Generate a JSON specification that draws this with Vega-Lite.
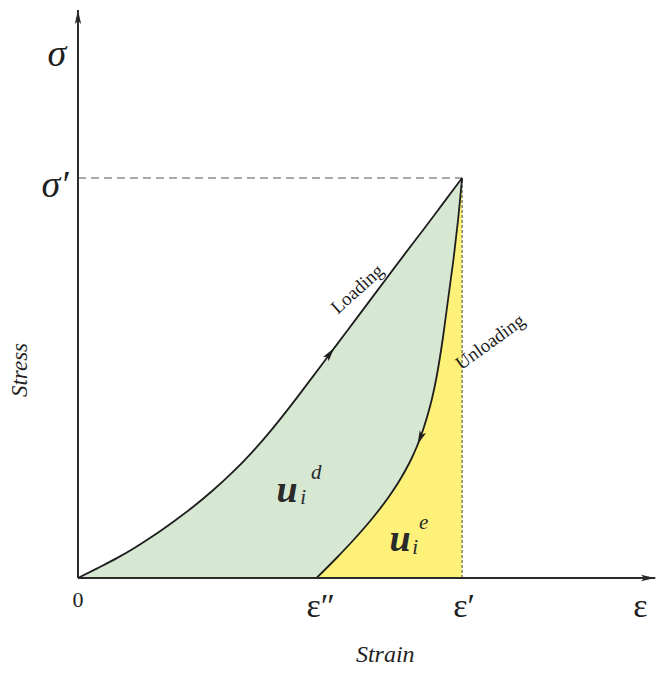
{
  "$schema": "https://vega.github.io/schema/vega-lite/v6.json",
  "width": 663,
  "height": 675,
  "autosize": "none",
  "padding": 0,
  "background": "white",
  "config": {"view": {"stroke": null}},
  "datasets": {
    "loading": [
      {"strain": 0, "stress": 0},
      {"strain": 0.05, "stress": 0.024},
      {"strain": 0.1, "stress": 0.049},
      {"strain": 0.15, "stress": 0.077},
      {"strain": 0.2, "stress": 0.108},
      {"strain": 0.25, "stress": 0.142},
      {"strain": 0.3, "stress": 0.178},
      {"strain": 0.35, "stress": 0.218},
      {"strain": 0.4, "stress": 0.262},
      {"strain": 0.45, "stress": 0.311},
      {"strain": 0.5, "stress": 0.366},
      {"strain": 0.55, "stress": 0.426},
      {"strain": 0.6, "stress": 0.489},
      {"strain": 0.65, "stress": 0.553},
      {"strain": 0.7, "stress": 0.617},
      {"strain": 0.75, "stress": 0.681},
      {"strain": 0.8, "stress": 0.745},
      {"strain": 0.85, "stress": 0.809},
      {"strain": 0.9, "stress": 0.872},
      {"strain": 0.95, "stress": 0.936},
      {"strain": 1.0, "stress": 1.0}
    ],
    "unloading": [
      {"strain": 0.621, "stress": 0},
      {"strain": 0.673, "stress": 0.05},
      {"strain": 0.722, "stress": 0.1},
      {"strain": 0.767, "stress": 0.15},
      {"strain": 0.807, "stress": 0.2},
      {"strain": 0.841, "stress": 0.25},
      {"strain": 0.869, "stress": 0.3},
      {"strain": 0.891, "stress": 0.35},
      {"strain": 0.908, "stress": 0.4},
      {"strain": 0.922, "stress": 0.45},
      {"strain": 0.933, "stress": 0.5},
      {"strain": 0.942, "stress": 0.55},
      {"strain": 0.95, "stress": 0.6},
      {"strain": 0.957, "stress": 0.65},
      {"strain": 0.964, "stress": 0.7},
      {"strain": 0.971, "stress": 0.75},
      {"strain": 0.978, "stress": 0.8},
      {"strain": 0.984, "stress": 0.85},
      {"strain": 0.99, "stress": 0.9},
      {"strain": 0.995, "stress": 0.95},
      {"strain": 1.0, "stress": 1.0}
    ],
    "axes": [
      {"x": 0, "y": 0, "x2": 1.503, "y2": 0},
      {"x": 0, "y": 0, "x2": 0, "y2": 1.42}
    ],
    "hdash": [{"x": 0, "y": 1, "x2": 1, "y2": 1}],
    "vdash": [{"x": 1, "y": 0, "x2": 1, "y2": 1}],
    "axisArrows": [
      {"x": 1.484, "y": 0, "dir": "right"},
      {"x": 0, "y": 1.4025, "dir": "up"}
    ],
    "curveArrows": [
      {"x": 0.656, "y": 0.561, "dir": "loading"},
      {"x": 0.891, "y": 0.35, "dir": "unloading"}
    ],
    "labels": [
      {"x": -0.055, "y": 1.3075, "label": "σ", "role": "greek"},
      {"x": -0.06, "y": 0.98, "label": "σ′", "role": "greek"},
      {"x": 0, "y": -0.055, "label": "0", "role": "zero"},
      {"x": 0.632, "y": -0.0725, "label": "ε″", "role": "eps"},
      {"x": 1.005, "y": -0.0725, "label": "ε′", "role": "eps"},
      {"x": 1.464, "y": -0.0725, "label": "ε", "role": "eps"},
      {"x": 0.8, "y": -0.1925, "label": "Strain", "role": "xtitle"},
      {"x": -0.151, "y": 0.52, "label": "Stress", "role": "ytitle"},
      {"x": 0.727, "y": 0.7225, "label": "Loading", "role": "load"},
      {"x": 1.073, "y": 0.59, "label": "Unloading", "role": "unload"},
      {"x": 0.544, "y": 0.2175, "label": "u", "role": "u"},
      {"x": 0.8385, "y": 0.095, "label": "u", "role": "u"},
      {"x": 0.586, "y": 0.2, "label": "i", "role": "sub"},
      {"x": 0.8775, "y": 0.075, "label": "i", "role": "sub"},
      {"x": 0.62, "y": 0.2625, "label": "d", "role": "sup"},
      {"x": 0.9, "y": 0.1375, "label": "e", "role": "sup"}
    ]
  },
  "encoding": {
    "x": {"type": "quantitative", "scale": {"domain": [-0.203, 1.523], "nice": false, "zero": false}, "axis": null},
    "y": {"type": "quantitative", "scale": {"domain": [-0.2425, 1.445], "nice": false, "zero": false}, "axis": null}
  },
  "layer": [
    {
      "data": {"name": "loading"},
      "mark": {"type": "area", "color": "#d6e7d2", "interpolate": "monotone"},
      "encoding": {"x": {"field": "strain", "type": "quantitative"}, "y": {"field": "stress", "type": "quantitative"}, "y2": {"datum": 0}}
    },
    {
      "data": {"name": "unloading"},
      "mark": {"type": "area", "color": "#fdf17a", "interpolate": "monotone"},
      "encoding": {"x": {"field": "strain", "type": "quantitative"}, "y": {"field": "stress", "type": "quantitative"}, "y2": {"datum": 0}}
    },
    {
      "data": {"name": "hdash"},
      "mark": {"type": "rule", "color": "#555555", "strokeWidth": 1.2, "strokeDash": [8, 5]},
      "encoding": {"x": {"field": "x", "type": "quantitative"}, "y": {"field": "y", "type": "quantitative"}, "x2": {"field": "x2"}, "y2": {"field": "y2"}}
    },
    {
      "data": {"name": "vdash"},
      "mark": {"type": "rule", "color": "#444444", "strokeWidth": 1, "strokeDash": [3, 2]},
      "encoding": {"x": {"field": "x", "type": "quantitative"}, "y": {"field": "y", "type": "quantitative"}, "x2": {"field": "x2"}, "y2": {"field": "y2"}}
    },
    {
      "data": {"name": "loading"},
      "mark": {"type": "line", "color": "#1e1e1e", "strokeWidth": 1.8, "interpolate": "monotone"},
      "encoding": {"x": {"field": "strain", "type": "quantitative"}, "y": {"field": "stress", "type": "quantitative"}}
    },
    {
      "data": {"name": "unloading"},
      "mark": {"type": "line", "color": "#1e1e1e", "strokeWidth": 1.8, "interpolate": "monotone"},
      "encoding": {"x": {"field": "strain", "type": "quantitative"}, "y": {"field": "stress", "type": "quantitative"}}
    },
    {
      "data": {"name": "axes"},
      "mark": {"type": "rule", "color": "#2a2a2a", "strokeWidth": 2},
      "encoding": {"x": {"field": "x", "type": "quantitative"}, "y": {"field": "y", "type": "quantitative"}, "x2": {"field": "x2"}, "y2": {"field": "y2"}}
    },
    {
      "data": {"name": "axisArrows"},
      "transform": [{"filter": "datum.dir === 'right'"}],
      "mark": {"type": "point", "shape": "M0,-1 L0.45,1 L0,0.55 L-0.45,1 Z", "filled": true, "color": "#2a2a2a", "size": 200, "angle": 90, "opacity": 1},
      "encoding": {"x": {"field": "x", "type": "quantitative"}, "y": {"field": "y", "type": "quantitative"}}
    },
    {
      "data": {"name": "axisArrows"},
      "transform": [{"filter": "datum.dir === 'up'"}],
      "mark": {"type": "point", "shape": "M0,-1 L0.45,1 L0,0.55 L-0.45,1 Z", "filled": true, "color": "#2a2a2a", "size": 200, "angle": 0, "opacity": 1},
      "encoding": {"x": {"field": "x", "type": "quantitative"}, "y": {"field": "y", "type": "quantitative"}}
    },
    {
      "data": {"name": "curveArrows"},
      "transform": [{"filter": "datum.dir === 'loading'"}],
      "mark": {"type": "point", "shape": "M0,-1 L0.5,1 L0,0.55 L-0.5,1 Z", "filled": true, "color": "#1e1e1e", "size": 190, "angle": 37, "opacity": 1},
      "encoding": {"x": {"field": "x", "type": "quantitative"}, "y": {"field": "y", "type": "quantitative"}}
    },
    {
      "data": {"name": "curveArrows"},
      "transform": [{"filter": "datum.dir === 'unloading'"}],
      "mark": {"type": "point", "shape": "M0,-1 L0.5,1 L0,0.55 L-0.5,1 Z", "filled": true, "color": "#1e1e1e", "size": 190, "angle": 203, "opacity": 1},
      "encoding": {"x": {"field": "x", "type": "quantitative"}, "y": {"field": "y", "type": "quantitative"}}
    },
    {
      "data": {"name": "labels"},
      "transform": [{"filter": "datum.role === 'greek'"}],
      "mark": {"type": "text", "font": "Liberation Serif", "fontStyle": "italic", "fontSize": 38, "color": "#1e1e1e", "align": "center", "baseline": "middle"},
      "encoding": {"x": {"field": "x", "type": "quantitative"}, "y": {"field": "y", "type": "quantitative"}, "text": {"field": "label"}}
    },
    {
      "data": {"name": "labels"},
      "transform": [{"filter": "datum.role === 'eps'"}],
      "mark": {"type": "text", "font": "Liberation Serif", "fontSize": 34, "color": "#1e1e1e", "align": "center", "baseline": "middle"},
      "encoding": {"x": {"field": "x", "type": "quantitative"}, "y": {"field": "y", "type": "quantitative"}, "text": {"field": "label"}}
    },
    {
      "data": {"name": "labels"},
      "transform": [{"filter": "datum.role === 'zero'"}],
      "mark": {"type": "text", "font": "Liberation Serif", "fontSize": 22, "color": "#1e1e1e", "align": "center", "baseline": "middle"},
      "encoding": {"x": {"field": "x", "type": "quantitative"}, "y": {"field": "y", "type": "quantitative"}, "text": {"field": "label"}}
    },
    {
      "data": {"name": "labels"},
      "transform": [{"filter": "datum.role === 'xtitle'"}],
      "mark": {"type": "text", "font": "Liberation Serif", "fontStyle": "italic", "fontSize": 24, "color": "#1e1e1e", "align": "center", "baseline": "middle"},
      "encoding": {"x": {"field": "x", "type": "quantitative"}, "y": {"field": "y", "type": "quantitative"}, "text": {"field": "label"}}
    },
    {
      "data": {"name": "labels"},
      "transform": [{"filter": "datum.role === 'ytitle'"}],
      "mark": {"type": "text", "font": "Liberation Serif", "fontStyle": "italic", "fontSize": 23, "color": "#1e1e1e", "align": "center", "baseline": "middle", "angle": 270},
      "encoding": {"x": {"field": "x", "type": "quantitative"}, "y": {"field": "y", "type": "quantitative"}, "text": {"field": "label"}}
    },
    {
      "data": {"name": "labels"},
      "transform": [{"filter": "datum.role === 'load'"}],
      "mark": {"type": "text", "font": "Liberation Serif", "fontSize": 19, "color": "#1e1e1e", "align": "center", "baseline": "middle", "angle": 318},
      "encoding": {"x": {"field": "x", "type": "quantitative"}, "y": {"field": "y", "type": "quantitative"}, "text": {"field": "label"}}
    },
    {
      "data": {"name": "labels"},
      "transform": [{"filter": "datum.role === 'unload'"}],
      "mark": {"type": "text", "font": "Liberation Serif", "fontSize": 19, "color": "#1e1e1e", "align": "center", "baseline": "middle", "angle": 324},
      "encoding": {"x": {"field": "x", "type": "quantitative"}, "y": {"field": "y", "type": "quantitative"}, "text": {"field": "label"}}
    },
    {
      "data": {"name": "labels"},
      "transform": [{"filter": "datum.role === 'u'"}],
      "mark": {"type": "text", "font": "Liberation Serif", "fontStyle": "italic", "fontWeight": "bold", "fontSize": 38, "color": "#2a2a2a", "align": "center", "baseline": "middle"},
      "encoding": {"x": {"field": "x", "type": "quantitative"}, "y": {"field": "y", "type": "quantitative"}, "text": {"field": "label"}}
    },
    {
      "data": {"name": "labels"},
      "transform": [{"filter": "datum.role === 'sub' || datum.role === 'sup'"}],
      "mark": {"type": "text", "font": "Liberation Serif", "fontStyle": "italic", "fontSize": 21, "color": "#2a2a2a", "align": "center", "baseline": "middle"},
      "encoding": {"x": {"field": "x", "type": "quantitative"}, "y": {"field": "y", "type": "quantitative"}, "text": {"field": "label"}}
    }
  ]
}
